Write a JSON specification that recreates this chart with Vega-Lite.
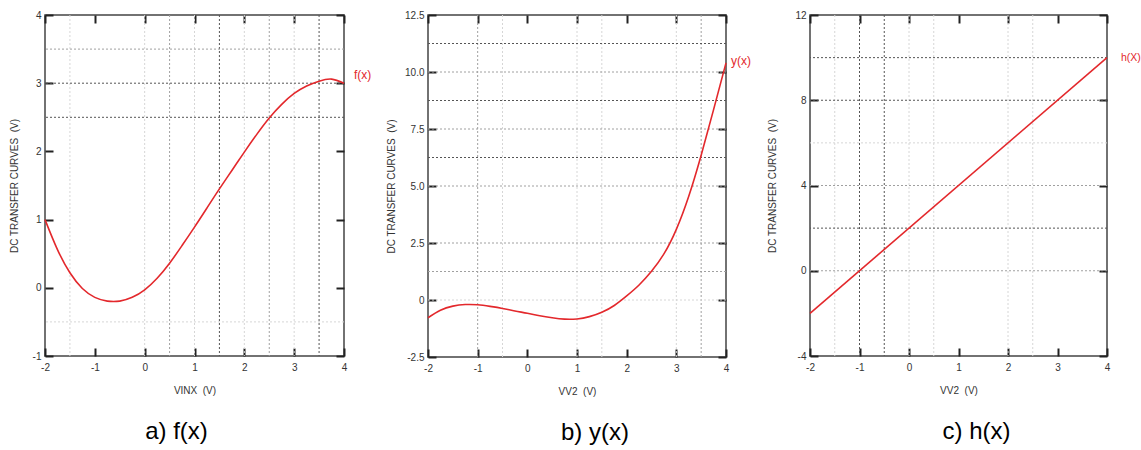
{
  "$schema": "https://vega.github.io/schema/vega-lite/v6.json",
  "padding": {"left": 8, "top": 9, "right": 0, "bottom": 0},
  "spacing": 84,
  "bounds": "flush",
  "config": {
    "view": {"stroke": "#444", "strokeWidth": 1.5},
    "axis": {
      "grid": false, "domain": false,
      "labelFont": "Liberation Sans", "labelFontSize": 10, "labelColor": "#333",
      "titleFont": "Liberation Sans", "titleFontSize": 10, "titleFontWeight": "normal", "titleColor": "#333",
      "tickColor": "#222", "tickWidth": 2, "tickSize": -8,
      "labelFlush": false, "labelOverlap": false,
      "labelExpr": "replace(datum.label, '−', '-')"
    },
    "axisX": {"labelPadding": 14, "titlePadding": 13},
    "axisY": {"labelPadding": 12},
    "title": {"font": "Liberation Sans", "fontSize": 24, "fontWeight": "normal", "color": "#000", "orient": "bottom", "anchor": "middle", "offset": 25}
  },
  "datasets": {
    "a_curve": [
      {"x": -2, "y": 1.0}, {"x": -1.75, "y": 0.56}, {"x": -1.5, "y": 0.22}, {"x": -1.25, "y": -0.01},
      {"x": -1.0, "y": -0.14}, {"x": -0.75, "y": -0.195}, {"x": -0.5, "y": -0.195},
      {"x": -0.25, "y": -0.14}, {"x": 0, "y": -0.03}, {"x": 0.25, "y": 0.14}, {"x": 0.5, "y": 0.36},
      {"x": 0.75, "y": 0.62}, {"x": 1.0, "y": 0.89}, {"x": 1.25, "y": 1.17}, {"x": 1.5, "y": 1.45},
      {"x": 1.75, "y": 1.72}, {"x": 2.0, "y": 1.99}, {"x": 2.25, "y": 2.25}, {"x": 2.5, "y": 2.49},
      {"x": 2.75, "y": 2.69}, {"x": 3.0, "y": 2.85}, {"x": 3.25, "y": 2.96}, {"x": 3.5, "y": 3.03},
      {"x": 3.75, "y": 3.06}, {"x": 4.0, "y": 3.0}
    ],
    "b_curve": [
      {"x": -2, "y": -0.78}, {"x": -1.75, "y": -0.45}, {"x": -1.5, "y": -0.27}, {"x": -1.25, "y": -0.2},
      {"x": -1.0, "y": -0.21}, {"x": -0.75, "y": -0.28}, {"x": -0.5, "y": -0.37}, {"x": -0.25, "y": -0.48},
      {"x": 0, "y": -0.58}, {"x": 0.25, "y": -0.69}, {"x": 0.5, "y": -0.78}, {"x": 0.75, "y": -0.84},
      {"x": 1.0, "y": -0.83}, {"x": 1.25, "y": -0.73}, {"x": 1.5, "y": -0.54}, {"x": 1.75, "y": -0.24},
      {"x": 2.0, "y": 0.18}, {"x": 2.25, "y": 0.66}, {"x": 2.5, "y": 1.26}, {"x": 2.75, "y": 2.02},
      {"x": 3.0, "y": 3.1}, {"x": 3.25, "y": 4.55}, {"x": 3.5, "y": 6.35}, {"x": 3.75, "y": 8.35},
      {"x": 4.0, "y": 10.4}
    ],
    "c_curve": [{"x": -2, "y": -2}, {"x": 4, "y": 10}],
    "a_label": [{"x": 4, "y": 3.0, "t": "f(x)"}],
    "b_label": [{"x": 4, "y": 10.4, "t": "y(x)"}],
    "c_label": [{"x": 4, "y": 10, "t": "h(X)"}],
    "a_v": [
      {"g": -1.5, "level": "faint"}, {"g": 0, "level": "faint"}, {"g": 0.5, "level": "medium"},
      {"g": 1, "level": "faint"}, {"g": 1.5, "level": "dark"}, {"g": 2, "level": "faint"},
      {"g": 2.5, "level": "medium"}, {"g": 3, "level": "faint"}, {"g": 3.5, "level": "dark"}
    ],
    "a_h": [
      {"g": -0.5, "level": "faint"}, {"g": 2.5, "level": "dark"}, {"g": 3, "level": "dark"}, {"g": 3.5, "level": "medium"}
    ],
    "b_v": [
      {"g": -1, "level": "medium"}, {"g": -0.5, "level": "faint"}, {"g": 1, "level": "faint"},
      {"g": 1.5, "level": "faint"}, {"g": 3, "level": "faint"}, {"g": 3.5, "level": "medium"}
    ],
    "b_h": [
      {"g": 0, "level": "faint"}, {"g": 1.25, "level": "medium"}, {"g": 2.5, "level": "medium"},
      {"g": 5, "level": "medium"}, {"g": 6.25, "level": "dark"}, {"g": 7.5, "level": "medium"},
      {"g": 8.75, "level": "dark"}, {"g": 10, "level": "medium"}, {"g": 11.25, "level": "dark"}
    ],
    "c_v": [
      {"g": -1.5, "level": "faint"}, {"g": -1, "level": "dark"}, {"g": -0.5, "level": "dark"},
      {"g": 0, "level": "faint"}, {"g": 0.5, "level": "faint"}, {"g": 2, "level": "faint"}, {"g": 2.5, "level": "faint"}
    ],
    "c_h": [
      {"g": 0, "level": "medium"}, {"g": 2, "level": "dark"}, {"g": 4, "level": "medium"},
      {"g": 6, "level": "faint"}, {"g": 8, "level": "dark"}, {"g": 10, "level": "dark"}
    ]
  },
  "hconcat": [
    {
      "width": 299, "height": 341,
      "title": {"text": "a) f(x)", "dx": -18},
      "resolve": {"axis": {"x": "independent", "y": "independent"}},
      "layer": [
        {
          "data": {"name": "a_v"},
          "mark": {"type": "rule", "strokeDash": [2, 2], "strokeWidth": 1},
          "encoding": {
            "x": {"field": "g", "type": "quantitative", "scale": {"domain": [-2, 4], "nice": false, "zero": false},
                  "axis": {"orient": "top", "labels": false, "title": null, "values": [-2, -1, 0, 1, 2, 3, 4]}},
            "color": {"field": "level", "type": "nominal", "scale": {"domain": ["faint", "medium", "dark"], "range": ["#d6d6d6", "#a0a0a0", "#555555"]}, "legend": null}
          }
        },
        {
          "data": {"name": "a_h"},
          "mark": {"type": "rule", "strokeDash": [2, 2], "strokeWidth": 1},
          "encoding": {
            "y": {"field": "g", "type": "quantitative", "scale": {"domain": [-1, 4], "nice": false, "zero": false},
                  "axis": {"orient": "right", "labels": false, "title": null, "values": [-1, 0, 1, 2, 3, 4]}},
            "color": {"field": "level", "type": "nominal", "scale": {"domain": ["faint", "medium", "dark"], "range": ["#d6d6d6", "#a0a0a0", "#555555"]}, "legend": null}
          }
        },
        {
          "data": {"name": "a_curve"},
          "mark": {"type": "line", "color": "#e3282c", "strokeWidth": 1.6, "interpolate": "natural"},
          "encoding": {
            "x": {"field": "x", "type": "quantitative", "scale": {"domain": [-2, 4], "nice": false, "zero": false},
                  "axis": {"orient": "bottom", "title": "VINX\u00a0 (V)", "values": [-2, -1, 0, 1, 2, 3, 4]}},
            "y": {"field": "y", "type": "quantitative", "scale": {"domain": [-1, 4], "nice": false, "zero": false},
                  "axis": {"orient": "left", "title": "DC TRANSFER CURVES\u00a0 (V)", "titlePadding": 13, "values": [-1, 0, 1, 2, 3, 4]}}
          }
        },
        {
          "data": {"name": "a_label"},
          "mark": {"type": "text", "color": "#e3282c", "font": "Liberation Sans", "fontSize": 12, "align": "left", "dx": 10, "dy": -8},
          "encoding": {
            "x": {"field": "x", "type": "quantitative", "axis": null},
            "y": {"field": "y", "type": "quantitative", "axis": null},
            "text": {"field": "t"}
          }
        }
      ]
    },
    {
      "width": 298, "height": 342,
      "title": {"text": "b) y(x)", "dx": 18},
      "resolve": {"axis": {"x": "independent", "y": "independent"}},
      "layer": [
        {
          "data": {"name": "b_v"},
          "mark": {"type": "rule", "strokeDash": [2, 2], "strokeWidth": 1},
          "encoding": {
            "x": {"field": "g", "type": "quantitative", "scale": {"domain": [-2, 4], "nice": false, "zero": false},
                  "axis": {"orient": "top", "labels": false, "title": null, "values": [-2, -1, 0, 1, 2, 3, 4]}},
            "color": {"field": "level", "type": "nominal", "scale": {"domain": ["faint", "medium", "dark"], "range": ["#d6d6d6", "#a0a0a0", "#555555"]}, "legend": null}
          }
        },
        {
          "data": {"name": "b_h"},
          "mark": {"type": "rule", "strokeDash": [2, 2], "strokeWidth": 1},
          "encoding": {
            "y": {"field": "g", "type": "quantitative", "scale": {"domain": [-2.5, 12.5], "nice": false, "zero": false},
                  "axis": {"orient": "right", "labels": false, "title": null, "values": [-2.5, 0, 2.5, 5, 7.5, 10, 12.5]}},
            "color": {"field": "level", "type": "nominal", "scale": {"domain": ["faint", "medium", "dark"], "range": ["#d6d6d6", "#a0a0a0", "#555555"]}, "legend": null}
          }
        },
        {
          "data": {"name": "b_curve"},
          "mark": {"type": "line", "color": "#e3282c", "strokeWidth": 1.6, "interpolate": "natural"},
          "encoding": {
            "x": {"field": "x", "type": "quantitative", "scale": {"domain": [-2, 4], "nice": false, "zero": false},
                  "axis": {"orient": "bottom", "title": "VV2\u00a0 (V)", "values": [-2, -1, 0, 1, 2, 3, 4]}},
            "y": {"field": "y", "type": "quantitative", "scale": {"domain": [-2.5, 12.5], "nice": false, "zero": false},
                  "axis": {"orient": "left", "title": "DC TRANSFER CURVES\u00a0 (V)", "titlePadding": 8, "values": [-2.5, 0, 2.5, 5, 7.5, 10, 12.5],
                           "labelExpr": "datum.value == 0 ? '0' : replace(format(datum.value, '.1f'), '−', '-')"}}
          }
        },
        {
          "data": {"name": "b_label"},
          "mark": {"type": "text", "color": "#e3282c", "font": "Liberation Sans", "fontSize": 12, "align": "left", "dx": 5, "dy": -2},
          "encoding": {
            "x": {"field": "x", "type": "quantitative", "axis": null},
            "y": {"field": "y", "type": "quantitative", "axis": null},
            "text": {"field": "t"}
          }
        }
      ]
    },
    {
      "width": 297, "height": 341,
      "title": {"text": "c) h(x)", "dx": 18},
      "resolve": {"axis": {"x": "independent", "y": "independent"}},
      "layer": [
        {
          "data": {"name": "c_v"},
          "mark": {"type": "rule", "strokeDash": [2, 2], "strokeWidth": 1},
          "encoding": {
            "x": {"field": "g", "type": "quantitative", "scale": {"domain": [-2, 4], "nice": false, "zero": false},
                  "axis": {"orient": "top", "labels": false, "title": null, "values": [-2, -1, 0, 1, 2, 3, 4]}},
            "color": {"field": "level", "type": "nominal", "scale": {"domain": ["faint", "medium", "dark"], "range": ["#d6d6d6", "#a0a0a0", "#555555"]}, "legend": null}
          }
        },
        {
          "data": {"name": "c_h"},
          "mark": {"type": "rule", "strokeDash": [2, 2], "strokeWidth": 1},
          "encoding": {
            "y": {"field": "g", "type": "quantitative", "scale": {"domain": [-4, 12], "nice": false, "zero": false},
                  "axis": {"orient": "right", "labels": false, "title": null, "values": [-4, 0, 4, 8, 12]}},
            "color": {"field": "level", "type": "nominal", "scale": {"domain": ["faint", "medium", "dark"], "range": ["#d6d6d6", "#a0a0a0", "#555555"]}, "legend": null}
          }
        },
        {
          "data": {"name": "c_curve"},
          "mark": {"type": "line", "color": "#e3282c", "strokeWidth": 1.6},
          "encoding": {
            "x": {"field": "x", "type": "quantitative", "scale": {"domain": [-2, 4], "nice": false, "zero": false},
                  "axis": {"orient": "bottom", "title": "VV2\u00a0 (V)", "values": [-2, -1, 0, 1, 2, 3, 4]}},
            "y": {"field": "y", "type": "quantitative", "scale": {"domain": [-4, 12], "nice": false, "zero": false},
                  "axis": {"orient": "left", "title": "DC TRANSFER CURVES\u00a0 (V)", "titlePadding": 17, "values": [-4, 0, 4, 8, 12]}}
          }
        },
        {
          "data": {"name": "c_label"},
          "mark": {"type": "text", "color": "#e3282c", "font": "Liberation Sans", "fontSize": 10.5, "align": "left", "dx": 14, "dy": 0},
          "encoding": {
            "x": {"field": "x", "type": "quantitative", "axis": null},
            "y": {"field": "y", "type": "quantitative", "axis": null},
            "text": {"field": "t"}
          }
        }
      ]
    }
  ]
}
